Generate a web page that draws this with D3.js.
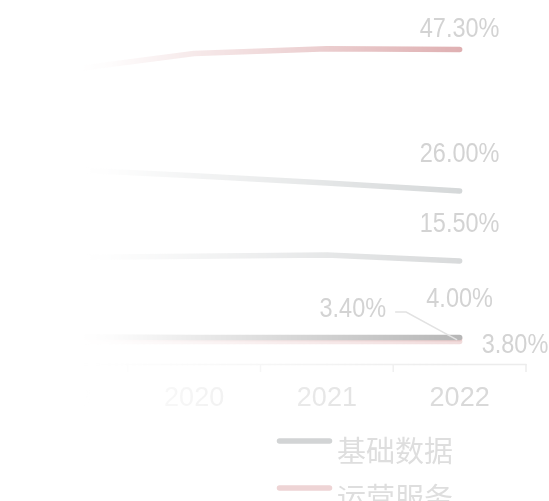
<!DOCTYPE html>
<html>
<head>
<meta charset="utf-8">
<script src="https://cdn.jsdelivr.net/npm/d3@7/dist/d3.min.js"></script>
<style>
  html, body { margin: 0; padding: 0; background: #fff; }
  svg { display: block; }
</style>
</head>
<body>
<svg id="chart" width="549" height="501"></svg>
<script>
// Share of revenue by business line, 2019–2022 (%)
const years = ["2019", "2020", "2021", "2022"];

const jichuShuju  = [29.3, 28.3, 27.2, 26.0];   // 基础数据
const yunyingFuwu = [44.1, 46.7, 47.4, 47.3];   // 运营服务
const lineC       = [16.0, 16.2, 16.4, 15.5];
const lineD       = [4.1, 4.0, 4.0, 4.0];
const lineE       = [3.8, 3.8, 3.8, 3.8];
const lineF       = [3.4, 3.4, 3.4, 3.4];

const legendNames = ["基础数据", "运营服务"];

// drawing order (later ones on top) and styling
const series = [
  { values: lineF,       color: "#f1dcdc", label: { dx: -73.5, dy: -24, anchor: "end", leader: true } },
  { values: lineE,       color: "#e9c9c9", label: { dx: 22, dy: 14, anchor: "start" } },
  { values: jichuShuju,  color: "#d5d8d9", label: { dx: 0, dy: -29, anchor: "middle" }, legend: 0 },
  { values: yunyingFuwu, color: "#dfb0b2", label: { dx: 0, dy: -12.5, anchor: "middle" }, legend: 1 },
  { values: lineC,       color: "#d8dadb", label: { dx: 0, dy: -29, anchor: "middle" } },
  { values: lineD,       color: "#b6b6b6", label: { dx: 0, dy: -30, anchor: "middle" } }
];

const svg = d3.select("#chart");

const x = d3.scaleBand().domain(years).range([-5, 526]).padding(0);
const y = d3.scaleLinear().domain([0, 50]).range([364, 31.5]);
const cx = d => x(d) + x.bandwidth() / 2;

// left-to-right fade for the plot area
const defs = svg.append("defs");
const grad = defs.append("linearGradient")
  .attr("id", "fadeGrad").attr("gradientUnits", "userSpaceOnUse")
  .attr("x1", 80).attr("x2", 462).attr("y1", 0).attr("y2", 0);
[[0, 0], [0.08, 0.04], [0.32, 0.3], [0.66, 0.65], [1, 1]].forEach(([o, a]) =>
  grad.append("stop").attr("offset", o).attr("stop-color", "#fff").attr("stop-opacity", a));
defs.append("mask").attr("id", "fade").attr("maskUnits", "userSpaceOnUse")
  .attr("x", 0).attr("y", 0).attr("width", 549).attr("height", 501)
  .append("rect").attr("width", 549).attr("height", 501).attr("fill", "url(#fadeGrad)");

const plot = svg.append("g").attr("mask", "url(#fade)");

// x axis: baseline, boundary ticks and year labels
const axisG = plot.append("g").attr("transform", `translate(0,${y(0)})`)
  .call(d3.axisBottom(x).tickSize(0).tickPadding(0));
axisG.select(".domain").attr("stroke", "#ececec").attr("stroke-width", 1.5);
axisG.selectAll(".tick text")
  .attr("y", 42).attr("dy", 0)
  .attr("fill", "#d9d9d9")
  .style("font-family", "'Liberation Sans', Arial, sans-serif")
  .style("font-size", "27px");
const bounds = years.map(d => x(d) + x.bandwidth());
axisG.selectAll("line.bound").data(bounds).enter().append("line")
  .attr("class", "bound")
  .attr("x1", d => d).attr("x2", d => d)
  .attr("y1", 0).attr("y2", 8)
  .attr("stroke", "#ececec").attr("stroke-width", 1.5);

// lines
const line = d3.line().x((d, i) => cx(years[i])).y(d => y(d));
plot.selectAll("path.series").data(series).enter().append("path")
  .attr("class", "series")
  .attr("d", s => line(s.values))
  .attr("fill", "none")
  .attr("stroke", s => s.color)
  .attr("stroke-width", 5.5)
  .attr("stroke-linecap", "round")
  .attr("stroke-linejoin", "round");

// end-of-line value labels (2022), set in a condensed face
const last = years.length - 1;
const labels = svg.append("g")
  .style("font-family", "'Liberation Sans', Arial, sans-serif")
  .style("font-size", "28px")
  .attr("fill", "#d3d3d3");
series.forEach(s => {
  const px = cx(years[last]);
  const py = y(s.values[last]);
  labels.append("text")
    .attr("transform", `translate(${px + s.label.dx},${py + s.label.dy}) scale(0.84,1)`)
    .attr("text-anchor", s.label.anchor)
    .text(s.values[last].toFixed(2) + "%");
  if (s.label.leader) {
    svg.append("polyline")
      .attr("points", [[px - 64.5, py - 29.4], [px - 53.5, py - 29.4], [px - 2.5, py - 1.5]].map(p => p.join(",")).join(" "))
      .attr("fill", "none")
      .attr("stroke", "#e2e2e2")
      .attr("stroke-width", 1.5);
  }
});

// legend
const legendItems = series.filter(s => s.legend !== undefined)
  .sort((a, b) => a.legend - b.legend);
const legend = svg.append("g").attr("transform", "translate(277,441)");
legendItems.forEach((s, i) => {
  const g = legend.append("g").attr("transform", `translate(0,${i * 47})`);
  g.append("line")
    .attr("x1", 2.5).attr("x2", 52.5).attr("y1", 0).attr("y2", 0)
    .attr("stroke", i === 0 ? "#d2d4d5" : "#eed4d5")
    .attr("stroke-width", 5.5)
    .attr("stroke-linecap", "round");
  g.append("text")
    .attr("x", 60).attr("y", 7.5)
    .attr("dominant-baseline", "central")
    .attr("fill", "#dedede")
    .style("font-family", "'Noto Sans CJK SC', sans-serif")
    .style("font-size", "29px")
    .text(legendNames[s.legend]);
});
</script>
</body>
</html>
